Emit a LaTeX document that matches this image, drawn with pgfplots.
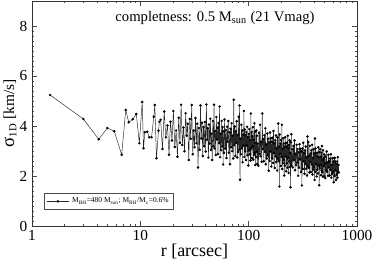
\documentclass[border=0pt]{standalone}
\usepackage{pgfplots}
\pgfplotsset{compat=1.18}
\usepackage{fontspec}
\setmainfont{Liberation Serif}
\begin{document}
\begin{tikzpicture}
\begin{axis}[
 name=ax,
 xmode=log, log basis x=10,
 scale only axis, width=243.75pt, height=168.75pt,
 xmin=1, xmax=1000, ymin=0, ymax=9,
 xtick={1,10,100,1000}, xticklabels={1,10,100,1000},
 minor xtick={2,3,4,5,6,7,8,9,20,30,40,50,60,70,80,90,200,300,400,500,600,700,800,900},
 ytick={0,2,4,6,8}, minor y tick num=9,
 tick align=inside,
 major tick length=3.5pt, minor tick length=1.6pt,
 tick style={black!70, line width=0.4pt},
 axis line style={black!80, line width=0.5pt},
 /pgf/number format/assume math mode=true,
 ticklabel style={font=\fontsize{11.5}{13}\selectfont},
 xlabel style={font=\fontsize{13.5}{15}\selectfont, yshift=4.5pt},
 ylabel style={font=\fontsize{11.5}{14}\selectfont, yshift=-4.5pt},
 xlabel={r [arcsec]}, ylabel={{\fontsize{14}{14}\selectfont σ}\textsubscript{1D} [km/s]},
 legend style={at={(0.037,0.072)}, anchor=south west, font=\fontsize{5.6}{6.5}\selectfont, draw=black!70, inner sep=1.5pt, row sep=0pt},
 legend cell align=left,
]
\addplot[black!85, line width=0.35pt, mark=*, mark size=0.75pt, mark options={black}] coordinates {
(1.47,5.24) (2.98,4.28) (4.13,3.47) (4.96,3.92) (5.75,3.79) (6.73,2.85) (7.33,4.64) (7.81,4.15) (8.51,4.27) (9.18,4.48)
(9.79,3.31) (10.4,4.96) (10.7,3.11) (11.0,3.75) (11.6,3.77) (12.1,3.55) (12.7,3.55) (13.3,4.37) (13.6,4.84) (14.1,2.71)
(14.7,3.81) (15.0,4.17)
(15.4,4.25) (16.0,3.08) (16.6,4.58) (17.2,3.55) (17.8,4.02) (18.4,2.85) (19.0,4.17) (19.6,3.42) (20.2,4.60) (20.8,3.16)
(21.4,3.82) (22.0,2.77) (22.6,4.33) (23.2,3.33) (23.8,4.85) (24.4,3.24) (25.0,3.94) (25.6,2.99) (26.2,4.51) (26.8,3.61)
(27.4,4.09) (28.0,2.64) (28.6,4.28) (29.2,3.49) (29.8,4.84)
(30.5,2.87) (31.1,3.82) (31.7,3.15) (32.3,4.32) (32.9,3.31) (33.5,4.09) (34.1,2.34) (34.7,3.92) (35.3,3.05) (35.9,4.82)
(36.5,3.50) (37.1,4.13) (37.7,2.80) (38.3,3.96) (38.9,3.19) (39.5,4.16) (40.1,2.98) (40.7,4.86) (41.3,3.45) (41.9,3.91)
(42.5,2.74) (43.1,4.06) (43.7,3.30) (44.3,4.29) (44.9,3.04) (45.5,3.69) (46.1,2.64) (46.7,4.20) (47.3,3.19) (47.9,4.85)
(48.5,3.10) (49.1,3.80) (49.7,2.84) (50.3,4.36) (50.9,3.46) (51.5,3.93) (52.1,2.88) (52.7,4.12) (53.3,3.32) (53.9,4.78)
(54.5,2.75) (55.1,3.69) (55.7,3.03) (56.3,4.20) (56.9,3.18) (57.5,3.96) (58.1,2.46) (58.7,3.79) (59.3,2.92) (59.9,4.26)
(60.8,3.10) (61.6,3.83) (62.4,2.72) (63.2,3.97) (64.0,3.37) (64.8,4.20) (65.6,2.93) (66.4,3.75) (67.2,2.47) (68.0,3.89)
(68.8,3.15) (69.6,4.11) (70.4,2.99) (71.2,3.61) (72.0,2.70) (72.8,5.05) (73.6,3.24) (74.4,3.98) (75.2,2.80) (76.0,3.79)
(76.8,3.33) (77.6,4.19) (78.4,2.74) (79.2,3.64) (80.0,2.96) (80.8,4.37) (81.6,3.05) (82.4,4.82) (83.2,1.85) (84.0,3.49)
(84.8,2.87) (85.6,4.05) (86.4,3.11) (87.2,3.82) (88.0,2.55) (88.8,3.66) (89.6,3.22) (90.4,4.60) (91.2,2.76) (92.0,3.86)
(92.8,2.98) (93.6,3.64) (94.4,2.64) (95.2,3.76) (96.0,3.22) (96.8,3.97) (97.6,2.83) (98.4,3.56) (99.2,2.42) (100.0,3.68)
(100.8,3.02) (101.6,3.88) (102.4,2.87) (103.2,3.43) (104.0,2.62) (104.8,4.50) (105.6,3.10) (106.4,3.76) (107.2,2.71) (108.0,3.59)
(108.8,3.18) (109.6,3.95) (110.4,2.65) (111.2,3.45) (112.0,2.85) (112.8,4.11) (113.6,2.93) (114.4,3.77) (115.2,2.44) (116.0,3.32)
(116.8,2.76) (117.6,3.82) (118.4,2.97) (119.2,3.61) (120.0,2.48)
(121.5,3.30) (123.0,2.41) (124.5,3.73) (126.0,2.88) (127.5,4.05) (129.0,2.79) (130.5,3.37) (132.0,2.57) (133.5,4.50) (135.0,3.08)
(136.5,3.48) (138.0,2.59) (139.5,3.63) (141.0,2.96) (142.5,3.91) (144.0,2.47) (145.5,3.26) (147.0,2.70) (148.5,3.70) (150.0,2.83)
(151.5,3.49) (153.0,2.21) (154.5,3.35) (156.0,2.60) (157.5,3.74) (159.0,2.98) (160.5,3.51) (162.0,2.38) (163.5,3.37) (165.0,2.70)
(166.5,3.53) (168.0,2.52) (169.5,3.80) (171.0,2.91) (172.5,3.31) (174.0,2.32) (175.5,3.43) (177.0,2.79) (178.5,3.62) (180.0,2.56)
(181.5,3.11) (183.0,2.22) (184.5,3.54) (186.0,2.69) (187.5,4.10) (189.0,2.60) (190.5,3.18) (192.0,1.58) (193.5,3.66) (195.0,2.89)
(196.5,3.29) (198.0,2.40) (199.5,3.44) (201.0,2.77) (202.5,4.05) (204.0,2.28) (205.5,3.08) (207.0,2.51) (208.5,3.51) (210.0,2.64)
(211.5,3.30) (213.0,2.02) (214.5,3.16) (216.0,2.41) (217.5,3.55) (219.0,2.79) (220.5,3.32) (222.0,2.19) (223.5,3.18) (225.0,2.51)
(226.5,3.34) (228.0,2.33) (229.5,3.61) (231.0,2.72) (232.5,3.12) (234.0,2.12) (235.5,3.24) (237.0,2.59) (238.5,3.43) (240.0,2.36)
(241.5,2.92) (243.0,1.55) (244.5,3.35) (246.0,2.49) (247.5,3.67) (249.0,2.41)
(253,3.07) (256,2.34) (259,3.20) (262,2.64) (265,3.42) (268,2.23) (271,2.89) (274,2.43) (277,3.25) (280,2.53)
(283,3.08) (286,2.01) (289,2.95) (292,2.33) (295,3.27) (298,2.66) (301,3.09) (304,2.16) (307,2.98) (310,1.62)
(313,3.10) (316,2.28) (319,3.33) (322,2.59) (325,2.92) (328,2.09) (331,3.02) (334,2.48) (337,3.18) (340,2.29)
(343,2.75) (346,2.02) (349,3.58) (352,2.40) (355,3.36) (358,2.33) (361,2.81) (364,2.14) (367,3.21) (370,2.57)
(373,2.90) (376,2.16) (379,3.03) (382,2.47) (385,3.25) (388,2.06) (391,2.72) (394,2.26) (397,3.07) (400,2.36)
(403,2.90) (406,1.84) (409,3.50) (412,2.16) (415,3.10) (418,2.48) (421,2.92) (424,1.98) (427,2.80) (430,2.25)
(433,2.93) (436,2.10) (439,3.15) (442,2.42) (445,2.74) (448,1.63) (451,2.96) (454,2.31) (457,3.07) (460,2.44)
(463,2.77) (466,2.03) (469,2.93) (472,2.22) (475,3.20) (478,2.15) (481,2.64) (484,1.97) (487,3.03) (490,2.40)
(493,2.72) (496,1.99) (499,2.86)
(505,2.51) (510,1.92) (515,2.78) (520,2.22) (525,2.98) (530,2.16) (535,2.54) (540,2.01) (545,2.85) (550,2.34)
(555,2.60) (560,2.02) (565,2.70) (570,2.25) (575,2.87) (580,1.93) (585,2.44) (590,2.08) (595,2.71) (600,2.16)
(605,2.58) (610,1.75) (615,2.72) (620,2.00) (625,2.73) (630,2.23) (635,2.58) (640,1.84) (645,2.48) (650,2.05)
(655,2.58) (660,1.93) (665,2.75) (670,2.18) (674,2.44) (678,2.14)
};
\addlegendentry{M\textsubscript{BH}=480 M\textsubscript{sun}; M\textsubscript{BH}/M\textsubscript{c}=0.6\%}
\node[font=\fontsize{11}{12}\selectfont] at (rel axis cs:0.563,0.925) {completness: 0.5 M\textsubscript{sun} (21 Vmag)};
\end{axis}
\pgfresetboundingbox
\path ([shift={(-24pt,-25.5pt)}]ax.south west) rectangle ([shift={(12.75pt,0.75pt)}]ax.north east);
\end{tikzpicture}
\end{document}
